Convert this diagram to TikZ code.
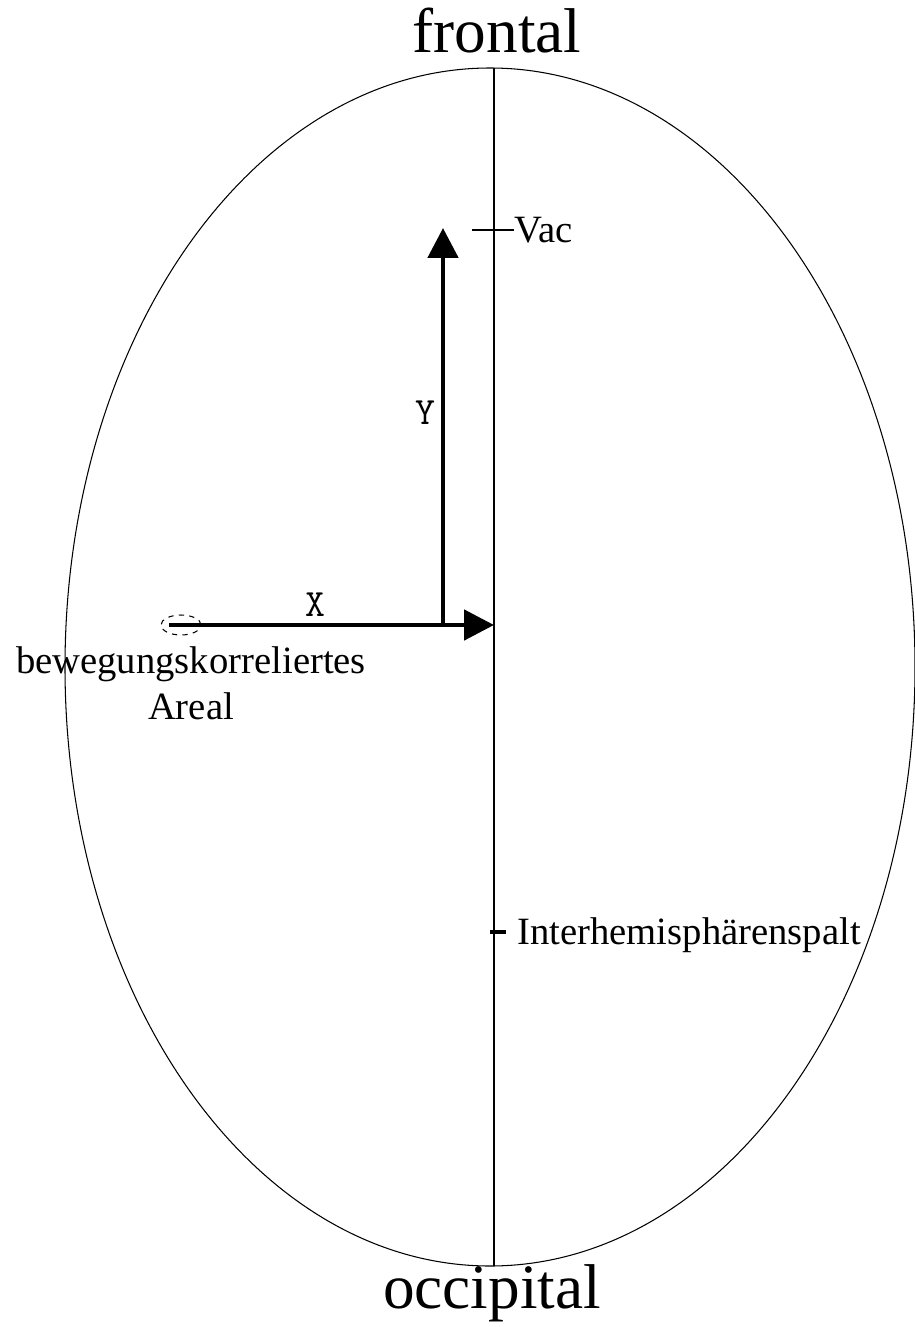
\documentclass[tikz,border=0pt]{standalone}
\usepackage{fontspec}
\setmainfont{Liberation Serif}
\usepackage{tikz}
\usetikzlibrary{positioning,arrows.meta,shapes.geometric}

\begin{document}
\begin{tikzpicture}[x=0.02cm,y=-0.02cm,
    every node/.style={inner sep=0pt,font=\fontsize{22}{26}\selectfont},
    thinline/.style={line width=0.6pt},
    axisarrow/.style={line width=2.8pt,-{Triangle[length=0.6cm,width=0.6cm]}},
    biglabel/.style={font=\fontsize{36}{40}\selectfont},
    axislabel/.style={font=\ttfamily\fontsize{22}{26}\selectfont}]
  \useasboundingbox (0,0) rectangle (915,1327);
  % Kopfumriss und Mittellinie
  \draw[thinline] (490,667) ellipse (425 and 599);
  \coordinate (top) at (494,68);
  \coordinate (bot) at (494,1266);
  \draw[thinline] (top) -- (bot);
  \node[biglabel,anchor=base] (frontal) at (497,53) {frontal};
  \node[biglabel,anchor=base] (occipital) at (492,1308) {occipital};
  % Koordinatenachsen
  \node[draw,dashed,ellipse,thinline,minimum width=0.8cm,minimum height=0.4cm] (areal) at (181,625) {};
  \coordinate (origin) at (443,627);
  \coordinate (xtip) at (494,625);
  \coordinate (ytip) at (443,228);
  \draw[axisarrow] (areal.west) ++(9,0) -- (xtip);
  \draw[axisarrow] (origin) -- (ytip);
  \node[axislabel] (xlab) at (315,605) {X};
  \node[axislabel] (ylab) at (425,413) {Y};
  \node[align=center] (arealtxt) at (191,683) {bewegungskorreliertes\\Areal};
  % Markierungen
  \node[anchor=west] (vac) at (514,230) {Vac};
  \draw[thinline] (vac.west) -- ++(-42,0);
  \node[anchor=west] (spalt) at (517,935) {Interhemisphärenspalt};
  \coordinate (spaltmark) at (490,932);
  \draw[line width=2.5pt] (spaltmark) -- ++(16,0);
\end{tikzpicture}
\end{document}
